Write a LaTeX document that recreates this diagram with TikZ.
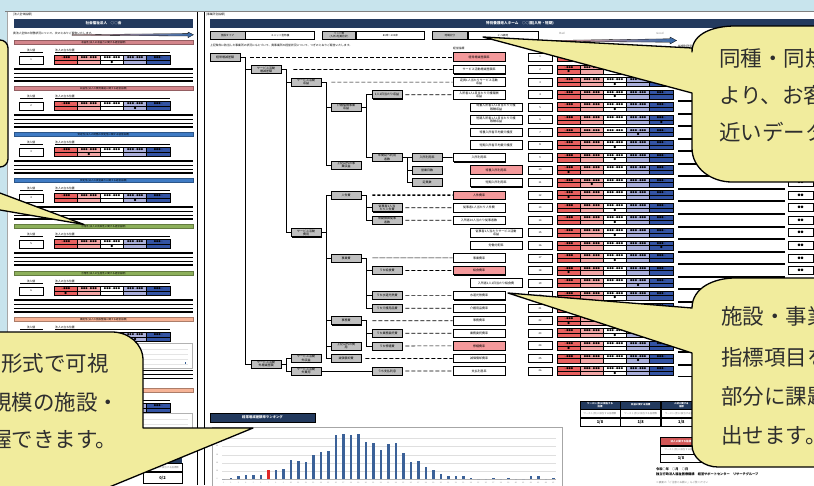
\documentclass[tikz,border=0pt]{standalone}
\usepackage{fontspec}
\setmainfont{Noto Sans CJK JP}
\usetikzlibrary{positioning,shadows}

\definecolor{sky}{HTML}{C8E4ED}
\definecolor{navy}{HTML}{233A5E}
\definecolor{memo}{HTML}{F1EC9D}
\definecolor{tgray}{HTML}{BFBFBF}
\definecolor{ipink}{HTML}{F4999B}
\definecolor{segred}{HTML}{E8605F}
\definecolor{segpink}{HTML}{F3A7A7}
\definecolor{seglav}{HTML}{AAAFDB}
\definecolor{segblue}{HTML}{3353A3}
\definecolor{barblue}{HTML}{3B6198}
\definecolor{barred}{HTML}{E02828}
\definecolor{secpink}{HTML}{D4868C}
\definecolor{secblue}{HTML}{3F7BC4}
\definecolor{secgreen}{HTML}{8DB05B}
\definecolor{secorange}{HTML}{F6B396}
\definecolor{inkgray}{HTML}{2E2E2E}

\tikzset{
  tiny text/.style={inner sep=0pt, font=\fontsize{2.8}{3.2}\selectfont},
  tnode/.style={draw, fill=tgray, line width=0.8pt, minimum width=30pt, minimum height=8pt,
    inner sep=0pt, align=center, font=\fontsize{3}{3.3}\selectfont,
    drop shadow={shadow xshift=0.8pt, shadow yshift=-0.8pt, fill=black, opacity=1}},
  ibox/.style={draw, fill=white, line width=0.8pt, minimum width=52pt, minimum height=8.5pt,
    inner sep=0pt, align=center, font=\fontsize{3}{3.3}\selectfont,
    drop shadow={shadow xshift=0.8pt, shadow yshift=-0.8pt, fill=black, opacity=1}},
  nbox/.style={draw, fill=white, line width=0.8pt, minimum width=24pt, minimum height=8pt,
    inner sep=0pt, font=\fontsize{2.6}{3}\selectfont},
  infokey/.style={draw, fill=tgray, line width=0.8pt, minimum height=8pt, inner sep=0pt,
    align=center, font=\fontsize{2.6}{2.9}\selectfont},
  infoval/.style={draw, fill=white, line width=0.8pt, minimum height=8pt, inner sep=0pt,
    font=\fontsize{2.6}{2.9}\selectfont},
  tabcell/.style={draw, fill=white, line width=0.7pt, minimum width=40pt, minimum height=8pt,
    inner sep=0pt, align=center, font=\fontsize{2.4}{2.7}\selectfont},
  link/.style={line width=0.8pt},
  lead/.style={line width=0.7pt, dash pattern=on 4pt off 2pt},
  leadbold/.style={line width=1.5pt, dash pattern=on 3pt off 2pt},
  memobox/.style={fill=memo, draw=black, line width=1.3pt, line join=round},
  memotext/.style={anchor=west, inner sep=0pt, text=inkgray, font=\fontsize{21.5}{21.5}\selectfont},
}

\begin{document}
\begin{tikzpicture}[x=1pt, y=-1pt]
\useasboundingbox (0,0) rectangle (814,485);
\clip (0,0) rectangle (814,485);
\fill[sky] (0,0) rectangle (814,485);

% pages
\fill[white] (7,11.5) rectangle (830,500);
\draw[gray, line width=1pt] (5,11) -- (814,11);
\draw[gray!70, line width=0.6pt] (7,11.5) -- (7,485);
\draw[line width=1.3pt] (197.5,12) -- (197.5,485);
\draw[line width=1.3pt] (204.5,12) -- (204.5,485);

% ---------- left page ----------
\node[tiny text, anchor=west] (lhead) at (13,15) {[法人全体指標]};
\node[fill=navy, minimum width=179pt, minimum height=8.5pt, inner sep=0pt, text=white,
  font=\bfseries\fontsize{3.6}{4}\selectfont] (ltitle) at (103.5,23.3) {社会福祉法人　○○会};
\node[tiny text, anchor=west] (llead) at (13,33) {貴法人全体の財務状況について、次のとおりご報告いたします。};
\shadedraw[left color=segred!55!white, right color=secblue!85!black, line width=0.3pt]
  (72,34.6) -- (188,33.6) -- (188,32) -- (193.5,34.8) -- (188,37.6) -- (188,36) -- (72,35.4) -- cycle;

\foreach \yb/\col/\captxt/\m [count=\s] in {
  40/secpink/収益性(法人の収益力に関する経営指標)/2,
  86/secpink/収益性(法人の費用構造に関する経営指標)/3,
  132/secblue/安定性(法人の財務の安定性に関する経営指標)/1,
  178/secblue/安定性(法人の資金繰りに関する経営指標)/3,
  224/secgreen/合理性(法人の効率性に関する経営指標)/2,
  271/secgreen/合理性(法人の生産性に関する経営指標)/0,
  317/secorange/機能性(法人の施設整備に関する経営指標)/3,
  388/secorange/機能性(法人の事業展開に関する経営指標)/2}{
  \node[fill=\col, draw=\col!70!black, line width=0.5pt, minimum width=179pt, minimum height=4.5pt,
    inner sep=0pt, font=\fontsize{2.5}{2.8}\selectfont] (sec\s) at (103.5,\yb+2.3) {\captxt};
  \node[tiny text] (lval\s) at (31,\yb+10) {法人値};
  \node[tiny text, anchor=west] (lpos\s) at (55,\yb+10) {法人の立ち位置};
  \draw[line width=0.5pt] (20,\yb+12) -- (43,\yb+12);
  \draw[line width=0.5pt] (55,\yb+12) -- (170,\yb+12);
  \node[nbox] (lnum\s) at (31,\yb+20) {\s};
  \foreach \j/\sc/\lab in {0/segred/〜●●●,1/segpink/●●●〜●●●,2/white/●●●〜●●●,3/seglav/●●●〜●●●,4/segblue/●●●〜}{
    \draw[fill=\sc, line width=0.8pt] (54+23.2*\j,\yb+15.5) rectangle ++(23.2,9);
    \draw[line width=0.4pt] (54+23.2*\j,\yb+20) -- ++(23.2,0);
    \node[inner sep=0pt, font=\fontsize{2.3}{2.5}\selectfont] (lseg\s-\j) at (65.6+23.2*\j,\yb+17.8) {\lab};
  }
  \node[inner sep=0pt, font=\fontsize{2.6}{3}\selectfont] (lmark\s) at (65.6+23.2*\m,\yb+22.3) {●};
}
\foreach \yb in {40,86,132,178,224,271}{
  \foreach \dy/\lw in {29/1.1,33/0.7,37/0.7,41/1.1}
    \draw[line width=\lw pt] (14,\yb+\dy) -- (193,\yb+\dy);
}
% small charts of the left page
\draw[gray!60, line width=0.6pt, fill=white] (54,343) rectangle (192,368);
\foreach \gy in {349,354,359,364} \draw[gray!20, line width=0.3pt] (60,\gy) -- (188,\gy);
\fill[barblue] (184.5,364) rectangle (186,361.5);
\foreach \gy/\lw in {370.5/1.1,374.5/0.7,378.5/1.1} \draw[line width=\lw pt] (14,\gy) -- (193,\gy);
\draw[gray!60, line width=0.6pt, fill=white] (54,413) rectangle (192,437);
\foreach \gy in {419,424,429,434} \draw[gray!20, line width=0.3pt] (60,\gy) -- (188,\gy);
\node[fill=navy, text=white, minimum width=39pt, minimum height=10pt, inner sep=0pt, align=center,
  font=\bfseries\fontsize{2.6}{2.9}\selectfont] (ltab1) at (162.5,458) {法人全体に関する\\指標};
\node[tabcell, minimum width=39pt, text=gray, below=0pt of ltab1] (ltab2) {ワースト(赤)に該当する指標数};
\node[tabcell, minimum width=39pt, minimum height=11pt, font=\bfseries\fontsize{4}{4}\selectfont,
  below=0pt of ltab2] (ltab3) {0/2};

% ---------- right page ----------
\node[tiny text, anchor=west] (rhead) at (206,15) {[事業所別指標]};
\node[fill=navy, minimum width=620pt, minimum height=9pt, inner sep=0pt, text=white,
  font=\bfseries\fontsize{3.6}{4}\selectfont] (rtitle) at (520,23.5) {特別養護老人ホーム　○○園(入所・短期)};
\node[infokey, minimum width=35pt] (typek) at (227.5,35.5) {施設タイプ};
\node[infoval, minimum width=69pt, right=0pt of typek] (typev) {ユニット型特養};
\node[infokey, minimum width=33pt, right=7pt of typev] (bedk) {ベッド数\\(入所+短期合計)};
\node[infoval, minimum width=68pt, right=0pt of bedk] (bedv) {80床〜100床};
\node[infokey, minimum width=35pt, right=7pt of bedv] (areak) {地域区分};
\node[infoval, minimum width=70pt, right=0pt of areak] (areav) {1〜5級地};
\node[tiny text, text=gray] (bad) at (562,33) {Bad};
\node[tiny text, text=gray] (good) at (660,33) {Good};
\shadedraw[left color=segred!55!white, right color=secblue!85!black, line width=0.3pt]
  (555,40.4) -- (670,38.8) -- (670,37) -- (676.5,40.5) -- (670,44) -- (670,42.2) -- (555,41.4) -- cycle;
\node[tiny text, anchor=west] (rlead) at (210,45) {上記条件に該当した事業所の状況にもとづいて、貴事業所の経営状況について、つぎのとおりご報告いたします。};
\node[tiny text, anchor=west] (kpihead) at (453,48.5) {経営指標};
\node[tiny text, anchor=west] (notehead) at (678,46.5) {指標別所見};

% tree
\node[tnode] (t0) at (225,57) {経常増減差額};
\node[tnode] (t1) at (266,69.6) {サービス活動\\増減差額};
\node[tnode] (t2) at (306,82.1) {サービス活動\\収益};
\node[tnode] (t3) at (346,107.2) {介護保険事業\\収益};
\node[tnode] (t4) at (387,94.7) {1人1日当たり収益};
\node[tnode] (t5) at (387,157.5) {年間延べ利用\\者数};
\node[tnode] (t6) at (346,165) {上記以外の事\\業収益};
\node[tnode] (t7) at (427,157.5) {入所利用率};
\node[tnode] (t8) at (427,170) {営業日数};
\node[tnode] (t9) at (427,182.6) {定員数};
\node[tnode] (t10) at (306,232.8) {サービス活動\\費用};
\node[tnode] (t11) at (346,195.2) {人件費};
\node[tnode] (t12) at (387,207.7) {従事者1人当\\たり人件費};
\node[tnode] (t13) at (387,220.3) {常勤換算従事\\者数};
\node[tnode] (t14) at (346,258) {事業費};
\node[tnode] (t15) at (387,270.5) {うち給食費};
\node[tnode] (t16) at (387,295.6) {うち水道光熱費};
\node[tnode] (t17) at (387,308.2) {うち介護用品費};
\node[tnode] (t18) at (346,320.8) {事務費};
\node[tnode] (t19) at (387,333.3) {うち業務委託費};
\node[tnode] (t20) at (387,345.9) {うち修繕費};
\node[tnode] (t21) at (346,345.9) {上記以外の費\\用};
\node[tnode] (t22) at (346,358.4) {減価償却費};
\node[tnode] (t23) at (266,364) {サービス活動\\外増減差額};
\node[tnode] (t24) at (306,358.4) {サービス活動\\外収益};
\node[tnode] (t25) at (306,371) {サービス活動\\外費用};
\node[tnode] (t26) at (387,371) {うち支払利息};

\foreach \p/\c in {t0/t1,t0/t23,t1/t2,t1/t10,t2/t3,t2/t6,t3/t4,t3/t5,t5/t7,t5/t8,t5/t9,
  t10/t11,t10/t14,t10/t18,t10/t21,t10/t22,t11/t12,t11/t13,t14/t15,t14/t16,t14/t17,
  t18/t19,t18/t20,t23/t24,t23/t25}
  \draw[link] (\p.east) -- ++(5,0) |- (\c.west);
\draw[link] (t25) -- (t26);

% indicator rows
\foreach \k/\ix/\ic/\itxt/\m in {
  1/479/ipink/経常増減差額率/0,
  2/479/white/サービス活動増減差額率/0,
  3/479/white/{定員1人当たりサービス活動\\収益}/2,
  4/479/white/{入所者1人1日当たり介護報酬\\収益}/2,
  5/496/white/{特養入所者1人1日当たり介護\\報酬収益}/2,
  6/496/white/{短期入所者1人1日当たり介護\\報酬収益}/4,
  7/496/white/特養入所者平均要介護度/3,
  8/496/white/短期入所者平均要介護度/2,
  9/479/white/入所利用率/2,
  10/496/ipink/特養入所利用率/0,
  11/496/white/短期入所利用率/1,
  12/479/ipink/人件費率/0,
  13/479/white/従事者1人当たり人件費/2,
  14/479/white/入所者10人当たり従事者数/2,
  15/496/white/{従事者1人当たりサービス活動\\収益}/2,
  16/496/white/労働分配率/4,
  17/479/white/事業費率/2,
  18/479/ipink/給食費率/0,
  19/496/white/入所者1人1日当たり給食費/3,
  20/479/white/水道光熱費率/2,
  21/479/white/介護用品費率/1,
  22/479/white/事務費率/0,
  23/479/white/業務委託費率/2,
  24/479/ipink/修繕費率/0,
  25/479/white/減価償却費率/3,
  26/479/white/支払利息率/2}{
  \pgfmathsetmacro\ry{57+12.56*(\k-1)}
  \node[ibox, fill=\ic] (i\k) at (\ix,\ry) {\itxt};
  \node[nbox] (n\k) at (540,\ry) {\k};
  \foreach \j/\sc/\lab in {0/segred/〜●●●,1/segpink/●●●〜●●●,2/white/●●●〜●●●,3/seglav/●●●〜●●●,4/segblue/●●●〜}{
    \draw[fill=\sc, line width=0.8pt] (557+23.2*\j,\ry-4.5) rectangle ++(23.2,9);
    \draw[line width=0.4pt] (557+23.2*\j,\ry) -- ++(23.2,0);
    \node[inner sep=0pt, font=\fontsize{2.3}{2.5}\selectfont] (seg\k-\j) at (568.6+23.2*\j,\ry-2.2) {\lab};
  }
  \node[inner sep=0pt, font=\fontsize{2.6}{3}\selectfont] (mk\k) at (568.6+23.2*\m,\ry+2.3) {●};
  \draw[line width=1pt] (678,\ry-5.8) -- (785,\ry-5.8);
  \draw[line width=1pt] (678,\ry+5.8) -- (785,\ry+5.8);
  \node[nbox, minimum width=25pt, font=\bfseries\fontsize{3}{3}\selectfont] (cm\k) at (800.5,\ry) {●●};
}

% leaders
\draw[lead, shorten <=10pt] (t0) -- (i1);
\draw[lead, shorten <=12pt] (t1) -- (i2);
\draw[lead, shorten <=10pt] (t2) -- (i3);
\draw[lead, shorten <=3pt] (t4) -- (i4);
\draw[link] (t7) -- (i9);
\draw[leadbold, shorten <=11pt] (t11) -- (i12);
\draw[lead, shorten <=3pt] (t12) -- (i13);
\draw[lead, shorten <=3pt] (t13) -- (i14);
\draw[lead, line width=0.5pt, dash pattern=on 6pt off 1pt, shorten <=11pt] (t14) -- (i17);
\draw[lead, shorten <=3pt] (t15) -- (i18);
\draw[lead, shorten <=3pt] (t16) -- (i20);
\draw[lead, shorten <=3pt] (t17) -- (i21);
\draw[lead, shorten <=11pt] (t18) -- (i22);
\draw[lead, shorten <=3pt] (t19) -- (i23);
\draw[lead, shorten <=3pt] (t20) -- (i24);
\draw[lead, shorten <=4pt] (t22) -- (i25);
\draw[lead, shorten <=3pt] (t26) -- (i26);

% ranking chart
\node[fill=navy, draw=black, line width=0.6pt, minimum width=105pt, minimum height=9pt, inner sep=0pt,
  text=white, font=\bfseries\fontsize{3.4}{4}\selectfont] (rank) at (262.5,417.5) {経常増減差額率ランキング};
\draw[gray!70, line width=0.8pt, fill=white] (212,427) rectangle (562,500);
\foreach \gy/\gl in {438/50,446/40,455/30,463/20,471/10}{
  \draw[gray!25, line width=0.3pt] (222,\gy) -- (556,\gy);
  \node[inner sep=0pt, text=gray, font=\fontsize{1.8}{2}\selectfont] (yl\gl) at (217,\gy) {\gl};
}
\draw[gray!60, line width=0.4pt] (222,479) -- (556,479);
\node[inner sep=0pt, text=gray, font=\fontsize{1.8}{2}\selectfont] (yl0) at (217,479) {0};
\foreach \h [count=\i] in {0,4,10,13,13,13,26,26,31,56,53,50,72,80,83,131,134,131,134,110,107,86,104,107,77,51,53,37,26,16,10,10,8,4,0,0,4,0,4,0,0,10,8,0,4}{
  \fill[barblue] (214.5+7.5*\i,479) rectangle ++(2.6,-\h/3);
  \node[inner sep=0pt, text=gray, font=\fontsize{1.8}{2}\selectfont] (xl\i) at (215.8+7.5*\i,483) {\i};
}
\fill[barred] (214.5+7.5*7,479) rectangle ++(2.6,-26/3);

% summary tables
\node[fill=navy, draw=black, line width=0.7pt, minimum width=40pt, minimum height=8pt, inner sep=0pt, align=center,
  text=white, font=\bfseries\fontsize{2.4}{2.7}\selectfont] (sum1) at (600,405) {ワースト(赤)に該当する\\指標};
\node[fill=navy, draw=black, line width=0.7pt, minimum width=40pt, minimum height=8pt, inner sep=0pt,
  text=white, font=\bfseries\fontsize{2.4}{2.7}\selectfont, right=0pt of sum1] (sum2) {収益に関する指標};
\node[fill=navy, draw=black, line width=0.7pt, minimum width=40pt, minimum height=8pt, inner sep=0pt, align=center,
  text=white, font=\bfseries\fontsize{2.4}{2.7}\selectfont, right=0pt of sum2] (sum3) {人材に関する\\指標};
\foreach \c in {1,2,3}{
  \node[tabcell, text=gray, below=0pt of sum\c] (sumd\c) {ワースト(赤)に該当する指標数};
  \node[tabcell, font=\bfseries\fontsize{4}{4}\selectfont, below=0pt of sumd\c] (sumv\c) {1/8};
}
\node[fill=segred!90!black, draw=black, line width=0.7pt, minimum width=42pt, minimum height=7.5pt, inner sep=0pt,
  text=white, font=\bfseries\fontsize{2.6}{2.9}\selectfont] (corp1) at (681,441.5) {法人に関する指標};
\node[fill=navy, draw=black, line width=0.7pt, minimum width=42pt, minimum height=7.5pt, inner sep=0pt,
  right=0pt of corp1] (corp2) {};
\node[tabcell, minimum width=42pt, text=gray, below=0pt of corp1] (corpd1) {ワースト(赤)に該当する指標数};
\node[tabcell, minimum width=42pt, font=\bfseries\fontsize{4}{4}\selectfont, below=0pt of corpd1] (corpv1) {1/8};
\node[tabcell, minimum width=42pt, below=0pt of corp2] (corpd2) {};
\node[tabcell, minimum width=42pt, below=0pt of corpd2] (corpv2) {};
\node[anchor=west, inner sep=0pt, font=\bfseries\fontsize{3.2}{3.5}\selectfont] (date) at (656,469) {令和○年　○月　○日};
\node[anchor=west, inner sep=0pt, font=\bfseries\fontsize{3.2}{3.5}\selectfont] (org) at (656,474) {独立行政法人福祉医療機構　経営サポートセンター　リサーチグループ};
\node[anchor=west, inner sep=0pt, text=gray, font=\fontsize{2.6}{3}\selectfont] (foot) at (656,482.5) {※裏面の「ご注意とお願い」もご覧ください};

% ---------- callouts ----------
\filldraw[memobox] (-40,40) -- (0,40) to[out=0,in=90] (8,48) -- (8,159) to[out=-90,in=0] (0,167) -- (-40,167) -- cycle;
\filldraw[memobox] (-30,181.8) -- (84,224.5) -- (-30,204.8) -- cycle;

\filldraw[memobox] (483,37) -- (692,48) -- (692,52) to[out=90,in=180] (735,26) -- (880,26) -- (880,182)
  -- (732,182) to[out=180,in=-90] (692,148) -- (692,93) -- cycle;
\node[memotext] (memo1a) at (719,58) {同種・同規};
\node[memotext] (memo1b) at (719,95) {より、お客};
\node[memotext] (memo1c) at (719,132) {近いデータ};

\filldraw[memobox] (508,293) -- (692,308) to[out=90,in=180] (735,278) -- (880,278) -- (880,467)
  -- (718,467) to[out=180,in=-90] (692,445) -- (692,353) -- cycle;
\node[memotext] (memo2a) at (721,316) {施設・事業};
\node[memotext] (memo2b) at (721,357) {指標項目を};
\node[memotext] (memo2c) at (721,396) {部分に課題};
\node[memotext] (memo2d) at (721,435) {出せます。};

\filldraw[memobox] (-40,332) -- (112,332) to[out=0,in=90] (143,360) -- (143,428) -- (253,428)
  -- (85,497) -- (-40,497) -- cycle;
\node[memotext] (memo3a) at (1,363) {形式で可視};
\node[memotext] (memo3b) at (-10,402) {規模の施設・};
\node[memotext] (memo3c) at (-10,439) {握できます。};
\end{tikzpicture}
\end{document}
